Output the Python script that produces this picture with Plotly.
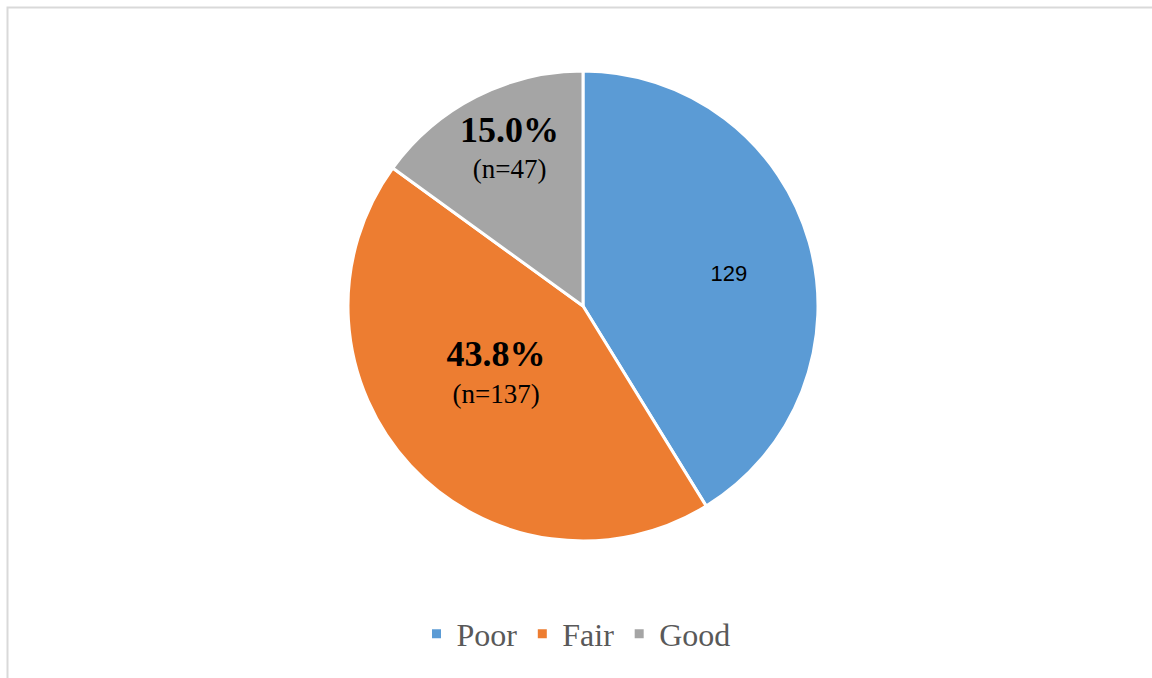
import plotly.graph_objects as go

categories = ["Poor", "Fair", "Good"]
counts = [129, 137, 47]
colors = ["#5B9BD5", "#ED7D31", "#A5A5A5"]

total = sum(counts)
texts = []
fonts = []
sizes = []
for c, n in zip(categories, counts):
    if c == "Poor":
        texts.append("&nbsp;" * 10 + f"{n}")
        fonts.append("Liberation Sans")
        sizes.append(22)
    else:
        pct = 100.0 * n / total
        tail = "<br><span style='font-size:1px'>&nbsp;</span>"
        texts.append(f"<b><span style='font-size:36px'>{pct:.1f}%</span></b><br>"
                     f"<span style='font-size:27px'>(n={n})</span>{tail}")
        fonts.append("Liberation Serif")
        sizes.append(28)

W, H = 1152, 678
cx, cy, r = 583, 306, 235

fig = go.Figure(go.Pie(
    labels=categories,
    values=counts,
    text=texts,
    textinfo="text",
    texttemplate="%{text}",
    textposition="inside",
    insidetextorientation="horizontal",
    sort=False,
    direction="clockwise",
    rotation=0,
    marker=dict(colors=colors, line=dict(color="white", width=3)),
    insidetextfont=dict(family=fonts, size=sizes, color="black"),
    domain=dict(x=[(cx - r) / W, (cx + r) / W], y=[(H - cy - r) / H, (H - cy + r) / H]),
    hoverinfo="skip",
))

fig.update_layout(
    width=W, height=H,
    margin=dict(l=0, r=0, t=0, b=0),
    paper_bgcolor="white",
    showlegend=True,
    legend=dict(
        orientation="h", x=0.5, xanchor="center", y=(H - 634) / H, yanchor="middle",
        font=dict(family="Liberation Serif", size=32, color="#595959"),
        itemwidth=30,
    ),
    shapes=[dict(type="rect", xref="paper", yref="paper",
                 x0=7.5 / W, x1=1.02, y0=-0.02, y1=1 - 7.5 / H,
                 line=dict(color="#D9D9D9", width=2))],
)

fig.write_html("out.html")
